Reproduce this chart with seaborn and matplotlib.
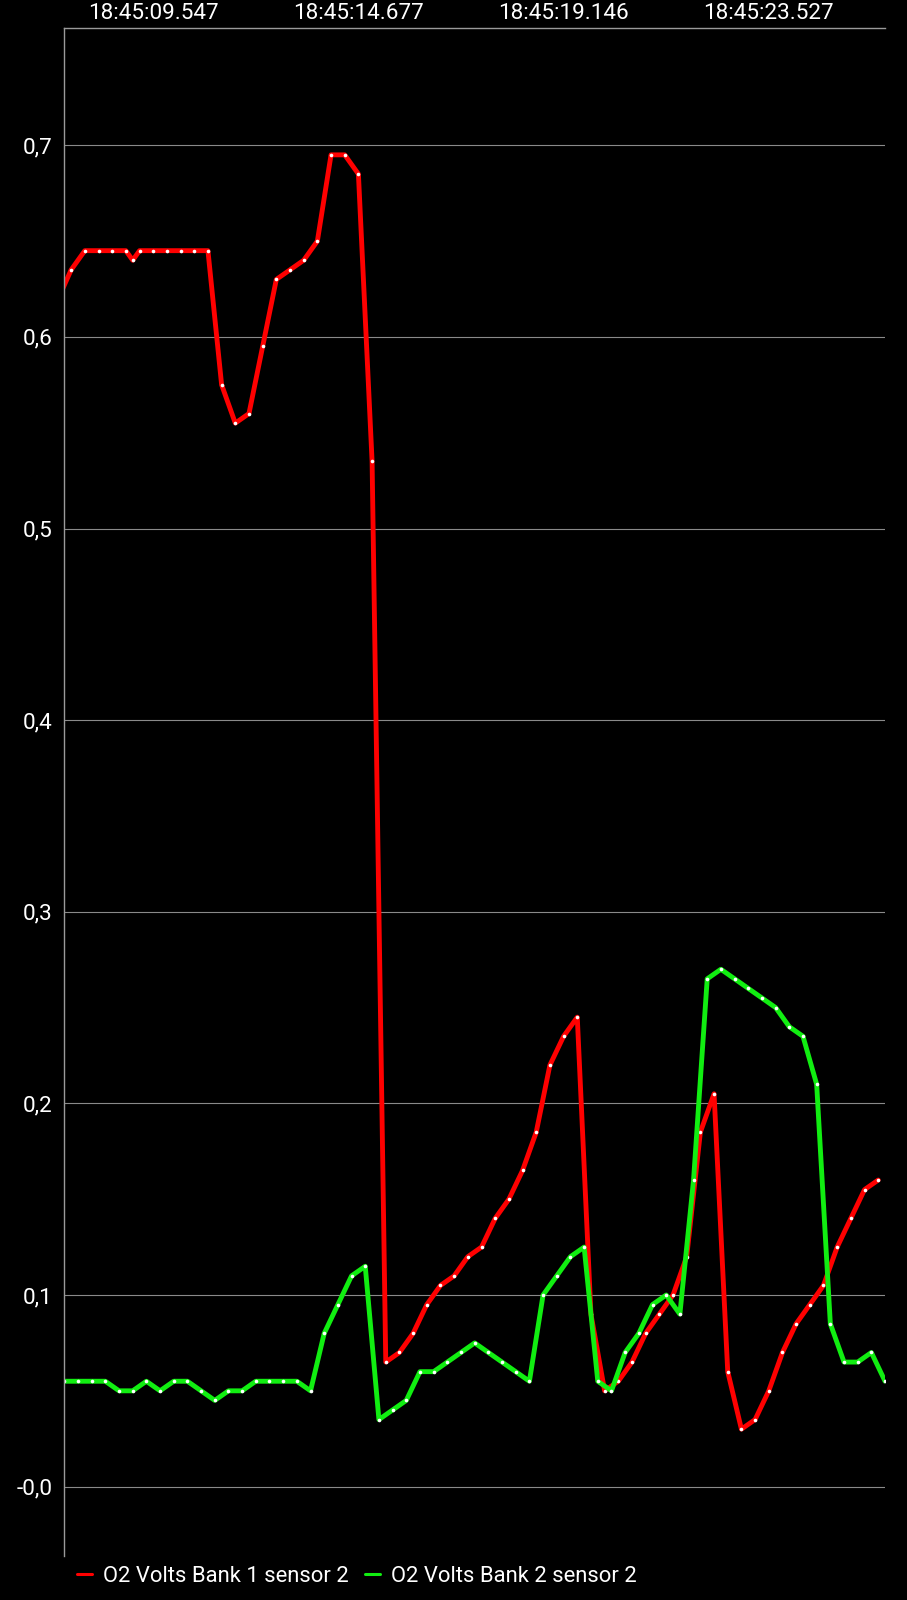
import numpy as np
import pandas as pd
import matplotlib.pyplot as plt
import seaborn as sns
from matplotlib.lines import Line2D

# O2 sensor log, x = sample slot (~0.3 s), bank 1 is polled half a slot after bank 2
bank1_x = [-0.5, 0.5, 1.5, 2.5, 3.5, 4.5, 5.0, 5.5, 6.5, 7.5, 8.5, 9.5, 10.5,
           11.5, 12.5, 13.5, 14.5, 15.5, 16.5, 17.5, 18.5, 19.5, 20.5, 21.5,
           22.5, 23.5, 24.5, 25.5, 26.5, 27.5, 28.5, 29.5, 30.5, 31.5, 32.5,
           33.5, 34.5, 35.5, 36.5, 37.5, 38.5, 39.5, 40.5, 41.5, 42.5, 43.5,
           44.5, 45.5, 46.5, 47.5, 48.5, 49.5, 50.5, 51.5, 52.5, 53.5, 54.5,
           55.5, 56.5, 57.5, 58.5, 59.5]
bank1_v = [0.619, 0.635, 0.645, 0.645, 0.645, 0.645, 0.640, 0.645, 0.645, 0.645,
           0.645, 0.645, 0.645, 0.575, 0.555, 0.560, 0.595, 0.630, 0.635, 0.640,
           0.650, 0.695, 0.695, 0.685, 0.535, 0.065, 0.070, 0.080, 0.095, 0.105,
           0.110, 0.120, 0.125, 0.140, 0.150, 0.165, 0.185, 0.220, 0.235, 0.245,
           0.090, 0.050, 0.055, 0.065, 0.080, 0.090, 0.100, 0.120, 0.185, 0.205,
           0.060, 0.030, 0.035, 0.050, 0.070, 0.085, 0.095, 0.105, 0.125, 0.140,
           0.155, 0.160]

bank2_x = list(range(61))
bank2_v = [0.055, 0.055, 0.055, 0.055, 0.050, 0.050, 0.055, 0.050, 0.055, 0.055,
           0.050, 0.045, 0.050, 0.050, 0.055, 0.055, 0.055, 0.055, 0.050, 0.080,
           0.095, 0.110, 0.115, 0.035, 0.040, 0.045, 0.060, 0.060, 0.065, 0.070,
           0.075, 0.070, 0.065, 0.060, 0.055, 0.100, 0.110, 0.120, 0.125, 0.055,
           0.050, 0.070, 0.080, 0.095, 0.100, 0.090, 0.160, 0.265, 0.270, 0.265,
           0.260, 0.255, 0.250, 0.240, 0.235, 0.210, 0.085, 0.065, 0.065, 0.070,
           0.055]

series_names = ['O2 Volts Bank 1 sensor 2', 'O2 Volts Bank 2 sensor 2']
series_colors = ['#ff0000', '#11ee11']

tick_pos = [6.5, 21.5, 36.5, 51.5]
tick_labels = ['18:45:09.547', '18:45:14.677', '18:45:19.146', '18:45:23.527']
y_ticks = [0.0, 0.1, 0.2, 0.3, 0.4, 0.5, 0.6, 0.7]
y_labels = ['-0,0', '0,1', '0,2', '0,3', '0,4', '0,5', '0,6', '0,7']

df = pd.concat([
    pd.DataFrame({'slot': bank1_x, 'volts': bank1_v, 'sensor': series_names[0]}),
    pd.DataFrame({'slot': bank2_x, 'volts': bank2_v, 'sensor': series_names[1]}),
])

sns.set_theme(style='dark')
plt.rcParams['font.family'] = ['Roboto', 'DejaVu Sans']

fig = plt.figure(figsize=(9.07, 16.0), dpi=100, facecolor='black')
ax = fig.add_axes([0.0709, 0.0275, 0.9049, 0.955])
ax.set_facecolor('black')

sns.lineplot(data=df, x='slot', y='volts', hue='sensor', palette=series_colors,
             estimator=None, sort=False, linewidth=3.5, marker='o',
             markersize=2.6, markerfacecolor='white', markeredgewidth=0,
             legend=False, ax=ax)
for ln in ax.get_lines():
    ln.set_solid_joinstyle('round')

ax.set_xlim(0, 60)
ax.set_ylim(-0.0362, 0.7612)

ax.xaxis.tick_top()
ax.set_xticks(tick_pos)
ax.set_xticklabels(tick_labels)
ax.set_yticks(y_ticks)
ax.set_yticklabels(y_labels)
ax.tick_params(axis='both', length=0, colors='white', labelsize=16.2)
ax.tick_params(axis='x', pad=3)
ax.tick_params(axis='y', pad=8.5)
ax.set_xlabel('')
ax.set_ylabel('')

ax.grid(False)
ax.yaxis.grid(True, color='#8a8a8a', linewidth=0.8)
for side in ['right', 'bottom']:
    ax.spines[side].set_visible(False)
for side in ['top', 'left']:
    ax.spines[side].set_visible(True)
    ax.spines[side].set_color('#9a9a9a')
    ax.spines[side].set_linewidth(1.0)

handles = [Line2D([0], [0], color=c, linewidth=2.2) for c in series_colors]
fig.legend(handles, series_names, loc='center left', bbox_to_anchor=(0.085, 0.015),
           ncol=2, frameon=False, fontsize=15.8, labelcolor='white',
           handlelength=0.7, handletextpad=0.5, columnspacing=0.7,
           borderpad=0, borderaxespad=0)

fig.savefig('out.png', dpi=100, facecolor='black')
